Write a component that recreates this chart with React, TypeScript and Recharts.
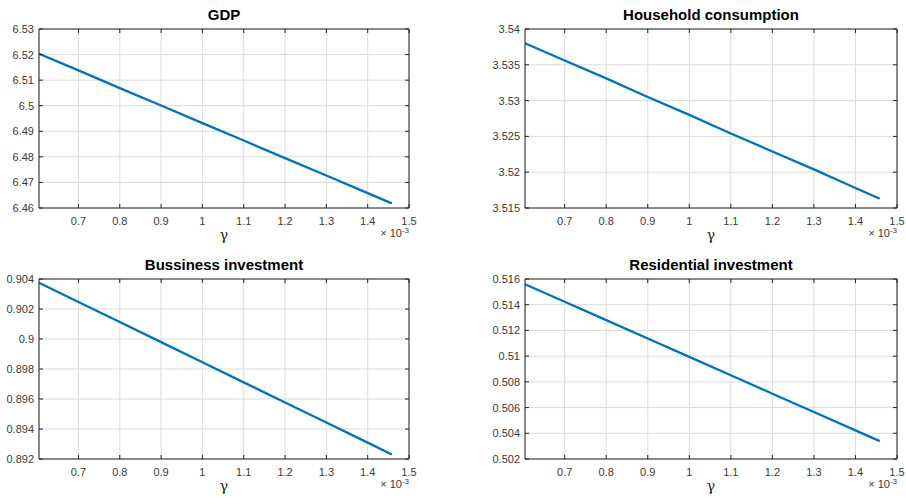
import React from 'react';
import { LineChart, Line, XAxis, YAxis, CartesianGrid, Label } from 'recharts';

// gamma values (in units of 1e-3)
const gammaX = [0.6045, 0.7, 0.8, 0.9, 1.0, 1.1, 1.2, 1.3, 1.4, 1.4585];

const gdpValues = [6.5203, 6.5138, 6.5069, 6.5001, 6.4932, 6.4864, 6.4795, 6.4727, 6.4658, 6.4618];
const householdValues = [3.538, 3.5356, 3.5331, 3.5305, 3.528, 3.5254, 3.5229, 3.5204, 3.5178, 3.5163];
const businessValues = [0.90375, 0.90247, 0.90113, 0.89979, 0.89845, 0.89711, 0.89577, 0.89443, 0.89309, 0.8923];
const residentialValues = [0.51559, 0.51423, 0.5128, 0.51137, 0.50994, 0.50851, 0.50708, 0.50565, 0.50423, 0.50339];

const xTicks = [0.7, 0.8, 0.9, 1, 1.1, 1.2, 1.3, 1.4, 1.5];
const xDomain: [number, number] = [0.6045, 1.5];

const gdpTicks = [6.46, 6.47, 6.48, 6.49, 6.5, 6.51, 6.52, 6.53];
const householdTicks = [3.515, 3.52, 3.525, 3.53, 3.535, 3.54];
const businessTicks = [0.892, 0.894, 0.896, 0.898, 0.9, 0.902, 0.904];
const residentialTicks = [0.502, 0.504, 0.506, 0.508, 0.51, 0.512, 0.514, 0.516];

const titles = ['GDP', 'Household consumption', 'Bussiness investment', 'Residential investment'];
const xLabel = 'γ';

const AXIS = '#262626';
const TICKTEXT = '#3a3a3a';
const GRID = '#dcdcdc';
const LINE = '#0072BD';
const FONT = '"Liberation Sans", Arial, Helvetica, sans-serif';
const TICK_LEN = 4;

const BottomTick = (props: any) => {
  const { x, y, payload } = props;
  return (
    <g>
      <line x1={x} y1={y} x2={x} y2={y - TICK_LEN} stroke={AXIS} strokeWidth={1} />
      <text x={x} y={y + 17} textAnchor="middle" fontSize={11} fill={TICKTEXT} fontFamily={FONT}>
        {String(payload.value)}
      </text>
    </g>
  );
};

const LeftTick = (props: any) => {
  const { x, y, payload } = props;
  return (
    <g>
      <line x1={x} y1={y} x2={x + TICK_LEN} y2={y} stroke={AXIS} strokeWidth={1} />
      <text x={x - 5} y={y + 4} textAnchor="end" fontSize={11} fill={TICKTEXT} fontFamily={FONT}>
        {String(payload.value)}
      </text>
    </g>
  );
};

const TopTick = (props: any) => {
  const { x, y } = props;
  return <line x1={x} y1={y} x2={x} y2={y + TICK_LEN} stroke={AXIS} strokeWidth={1} />;
};

const RightTick = (props: any) => {
  const { x, y } = props;
  return <line x1={x} y1={y} x2={x - TICK_LEN} y2={y} stroke={AXIS} strokeWidth={1} />;
};

type PanelProps = {
  title: string;
  values: number[];
  yTicks: number[];
  left: number;
  top: number;
  leftW: number;
  rightW: number;
  topH: number;
  bottomH: number;
};

const W = 453;
const H = 252;

function Panel({ title, values, yTicks, left, top, leftW, rightW, topH, bottomH }: PanelProps) {
  const data = gammaX.map((g, i) => ({ g, v: values[i] }));
  const yDomain: [number, number] = [yTicks[0], yTicks[yTicks.length - 1]];
  return (
    <div style={{ position: 'absolute', left, top, width: W, height: H }}>
      <LineChart width={W} height={H} data={data} margin={{ top: 0, right: 0, bottom: 0, left: 0 }}>
        <CartesianGrid stroke={GRID} strokeWidth={1} />
        <XAxis
          dataKey="g"
          type="number"
          domain={xDomain}
          ticks={xTicks}
          allowDataOverflow
          interval={0}
          height={bottomH}
          tickSize={0}
          tickMargin={0}
          tickLine={false}
          axisLine={{ stroke: AXIS, strokeWidth: 1 }}
          tick={<BottomTick />}
        >
          <Label
            content={(p: any) => {
              const vb = p.viewBox || {};
              const cx = vb.x + vb.width / 2;
              return (
                <g>
                  <text x={cx} y={vb.y + 32} textAnchor="middle" fontSize={14} fill={AXIS} fontFamily='"DejaVu Serif", "Liberation Serif", serif'>
                    {xLabel}
                  </text>
                  <text x={vb.x + vb.width} y={vb.y + 29} textAnchor="end" fontSize={11} fill={TICKTEXT} fontFamily={FONT}>
                    <tspan>× 10</tspan>
                    <tspan dy={-4} fontSize={8}>-3</tspan>
                  </text>
                </g>
              );
            }}
          />
        </XAxis>
        <XAxis
          xAxisId="top"
          orientation="top"
          dataKey="g"
          type="number"
          domain={xDomain}
          ticks={xTicks}
          allowDataOverflow
          interval={0}
          height={topH}
          tickSize={0}
          tickMargin={0}
          tickLine={false}
          axisLine={{ stroke: AXIS, strokeWidth: 1 }}
          tick={<TopTick />}
        >
          <Label
            content={(p: any) => {
              const vb = p.viewBox || {};
              return (
                <text
                  x={vb.x + vb.width / 2}
                  y={vb.y + vb.height - 9}
                  textAnchor="middle"
                  fontSize={15}
                  fontWeight="bold"
                  fill="#000"
                  fontFamily={FONT}
                >
                  {title}
                </text>
              );
            }}
          />
        </XAxis>
        <YAxis
          type="number"
          domain={yDomain}
          ticks={yTicks}
          allowDataOverflow
          interval={0}
          width={leftW}
          tickSize={0}
          tickMargin={0}
          tickLine={false}
          axisLine={{ stroke: AXIS, strokeWidth: 1 }}
          tick={<LeftTick />}
        />
        <YAxis
          yAxisId="right"
          orientation="right"
          type="number"
          domain={yDomain}
          ticks={yTicks}
          allowDataOverflow
          interval={0}
          width={rightW}
          tickSize={0}
          tickMargin={0}
          tickLine={false}
          axisLine={{ stroke: AXIS, strokeWidth: 1 }}
          tick={<RightTick />}
        />
        <Line
          type="linear"
          dataKey="v"
          stroke={LINE}
          strokeWidth={2.3}
          dot={false}
          activeDot={false}
          isAnimationActive={false}
        />
      </LineChart>
    </div>
  );
}

export default function App() {
  return (
    <div style={{ position: 'absolute', left: 0, top: 0, width: 906, height: 504, background: '#fff' }}>
      <Panel title={titles[0]} values={gdpValues} yTicks={gdpTicks} left={0} top={0} leftW={39} rightW={44} topH={29} bottomH={44} />
      <Panel title={titles[1]} values={householdValues} yTicks={householdTicks} left={453} top={0} leftW={72} rightW={9} topH={29} bottomH={44} />
      <Panel title={titles[2]} values={businessValues} yTicks={businessTicks} left={0} top={252} leftW={39} rightW={44} topH={27} bottomH={45} />
      <Panel title={titles[3]} values={residentialValues} yTicks={residentialTicks} left={453} top={252} leftW={72} rightW={9} topH={27} bottomH={45} />
    </div>
  );
}
